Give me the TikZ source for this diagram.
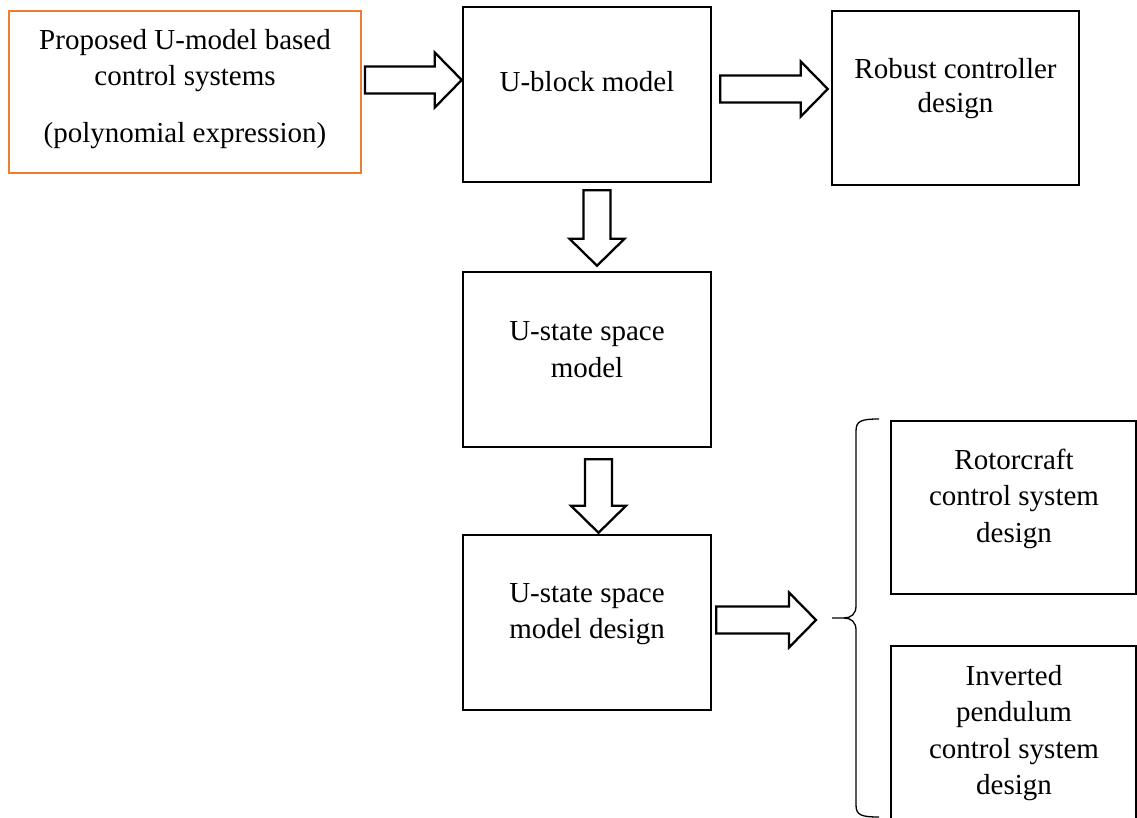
\documentclass[tikz,border=0pt]{standalone}
\usepackage{fontspec}
\setmainfont{Liberation Serif}
\usetikzlibrary{calc}
\definecolor{boxorange}{RGB}{237,125,49}
\begin{document}
\begin{tikzpicture}[x=1pt,y=-1pt,
  box/.style={draw=black, line width=2.5pt, minimum width=248pt,
              minimum height=175pt, inner sep=0pt},
  ln/.style={anchor=base, inner sep=0pt, font=\fontsize{29}{36}\selectfont},
  brace/.style={draw=black, line width=1.3pt},
  % hollow block arrow drawn from the start point to the target point
  blockarrow/.style={draw=black, line width=2.3pt, line join=miter, to path={
    let \p1=(\tikztostart), \p2=(\tikztotarget),
        \n1={atan2(\y2-\y1,\x2-\x1)}, \n2={veclen(\x2-\x1,\y2-\y1)} in
    [shift={(\p1)}, rotate=\n1]
    (0,-13.5) -- (\n2-27,-13.5) -- (\n2-27,-27.5) -- (\n2,0)
    -- (\n2-27,27.5) -- (\n2-27,13.5) -- (0,13.5) -- cycle}}]

\fill[white] (0,0) rectangle (1137,818);
\path[use as bounding box, clip] (0,0) rectangle (1137,818);

% boxes
\node[box, draw=boxorange, line width=2pt, minimum width=352pt,
      minimum height=162pt] (po) at (185,92) {};
\node[box] (ub) at (587,94.5) {};
\node[box, minimum width=247pt, minimum height=174pt] (rc) at (955.5,98) {};
\node[box] (us) at (587,359.5) {};
\node[box] (ud) at (587,622.5) {};
\node[box, minimum width=245pt, minimum height=173pt] (rt) at (1013.5,507.5) {};
\node[box, minimum width=245pt, minimum height=180pt] (ip) at (1013.5,736) {};

% box texts
\node[ln] (po1) at (185,50) {Proposed U-model based};
\node[ln] (po2) at (185,86) {control systems};
\node[ln] (po3) at (185,143) {(polynomial expression)};

\node[ln] (ub1) at (587,92) {U-block model};

\node[ln] (rc1) at (955.5,79) {Robust controller};
\node[ln] (rc2) at (955.5,113) {design};

\node[ln] (us1) at (587,340) {U-state space};
\node[ln] (us2) at (587,377) {model};

\node[ln] (ud1) at (587,602) {U-state space};
\node[ln] (ud2) at (587,638) {model design};

\node[ln] (rt1) at (1014,469) {Rotorcraft};
\node[ln] (rt2) at (1014,505.5) {control system};
\node[ln] (rt3) at (1014,542) {design};

\node[ln] (ip1) at (1014,685) {Inverted};
\node[ln] (ip2) at (1014,721) {pendulum};
\node[ln] (ip3) at (1014,758) {control system};
\node[ln] (ip4) at (1014,794) {design};

% curly brace grouping the two application boxes
\coordinate (bt) at (832,618);
\draw[brace] (bt) -- (844,618) .. controls (851,618) and (856,614) .. (856,606)
  -- (856,431) .. controls (856,421) and (861,419) .. (879,419);
\draw[brace] ([xshift=12pt]bt) .. controls (851,618) and (856,622) .. (856,630)
  -- (856,805) .. controls (856,815) and (861,817) .. (879,817);

% block arrows
\draw[blockarrow] ([shift={(3,-12)}]po.east) to ([shift={(0,-14.5)}]ub.west);
\draw[blockarrow] ([shift={(8,-5.5)}]ub.east) to ([shift={(-3,-9)}]rc.west);
\draw[blockarrow] ([shift={(10,7)}]ub.south) to ([shift={(10,-5)}]us.north);
\draw[blockarrow] ([shift={(11.5,11)}]us.south) to ([shift={(11.5,-1)}]ud.north);
\draw[blockarrow] ([shift={(4,-2.5)}]ud.east) to ([shift={(-16,2)}]bt);
\end{tikzpicture}
\end{document}
